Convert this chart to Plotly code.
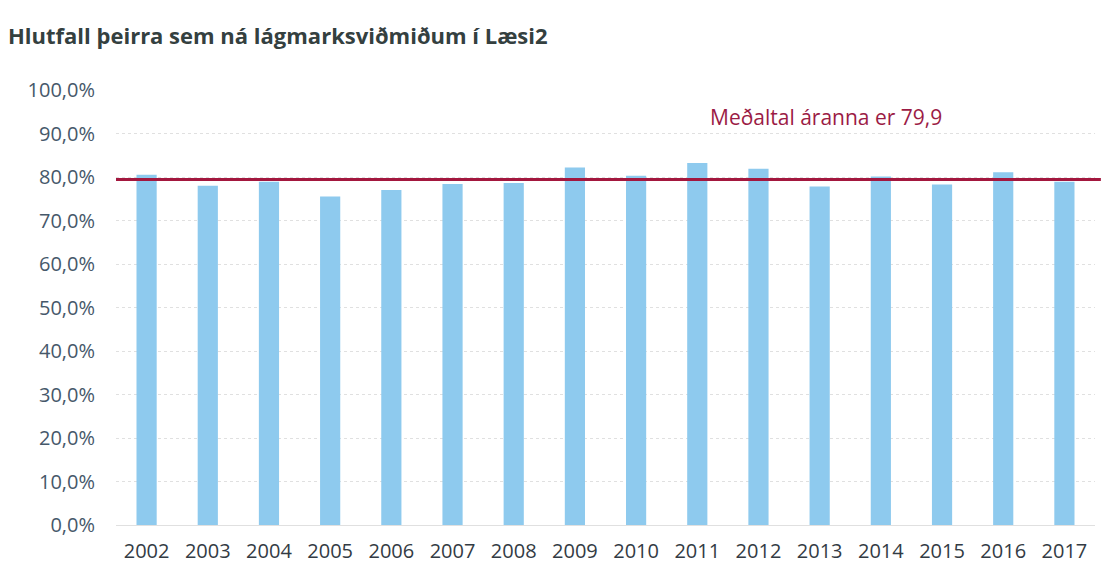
import plotly.graph_objects as go

years = ["2002", "2003", "2004", "2005", "2006", "2007", "2008", "2009",
         "2010", "2011", "2012", "2013", "2014", "2015", "2016", "2017"]
values = [80.5, 78.0, 78.9, 75.5, 77.0, 78.4, 78.6, 82.2,
          80.3, 83.2, 81.9, 77.8, 80.1, 78.3, 81.1, 78.9]
average = 79.4
avg_label = "Meðaltal áranna er 79,9"
title = "Hlutfall þeirra sem ná lágmarksviðmiðum í Læsi2"
y_ticks = list(range(0, 101, 10))
y_ticktext = [f"{v},0%" for v in y_ticks]

FONT = "Open Sans, Noto Sans, sans-serif"

fig = go.Figure()
fig.add_trace(go.Bar(x=years, y=values, marker=dict(color="#8ECAEE", line=dict(width=0)),
                     width=0.33, showlegend=False))

fig.add_shape(type="line", xref="paper", yref="y", x0=0, x1=1.006, y0=average, y1=average,
              line=dict(color="#A3173E", width=3))
fig.add_annotation(xref="x", yref="y", x=11.1, y=93.8, text=avg_label, showarrow=False,
                   font=dict(family=FONT, size=21, color="#9B1B45"))

fig.update_layout(
    width=1109, height=577,
    margin=dict(l=108, r=22, t=82, b=60),
    paper_bgcolor="white", plot_bgcolor="white",
    title=dict(text=title, x=0.0, xanchor="left", y=1 - 28 / 577, yanchor="middle",
               font=dict(family=FONT, size=22, color="#34403F", weight="bold")),
    font=dict(family=FONT, size=20, color="#3E4A56"),
)
fig.update_xaxes(type="category", showgrid=False, showline=False, ticks="",
                 ticklabelstandoff=12,
                 tickfont=dict(family=FONT, size=20, color="#333B44"))
fig.update_yaxes(range=[0, 100], tickvals=y_ticks, ticktext=y_ticktext,
                 showgrid=True, gridcolor="#E0E0E0", griddash="dot", gridwidth=1,
                 zeroline=True, zerolinecolor="#E0E0E0", zerolinewidth=1,
                 showline=False, ticks="", ticklabelstandoff=20,
                 tickfont=dict(family=FONT, size=20, color="#46586A"))

fig.write_html("out.html")
